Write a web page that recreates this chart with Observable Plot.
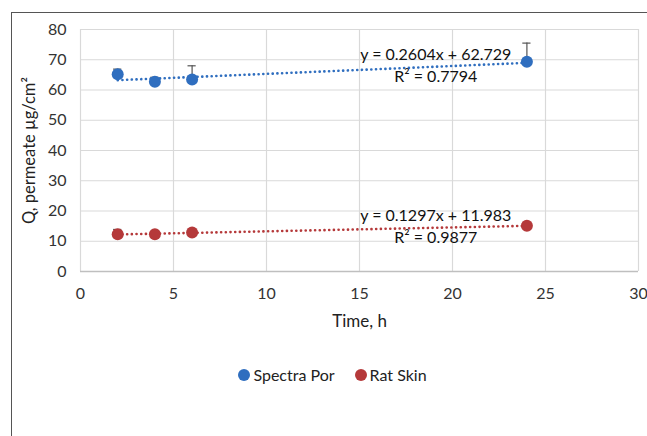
<!DOCTYPE html>
<html>
<head>
<meta charset="utf-8">
<script src="https://cdn.jsdelivr.net/npm/d3@7"></script>
<script src="https://cdn.jsdelivr.net/npm/@observablehq/plot@0.6"></script>
<style>
  html, body { margin: 0; padding: 0; background: #fff; width: 647px; height: 436px; overflow: hidden; font-family: Lato, "Open Sans", sans-serif; }
  #frame { position: absolute; left: 11px; top: 12px; width: 700px; height: 500px; border: 1px solid #555; box-sizing: border-box; }
  #chart { position: absolute; left: 0; top: 0; }
  #legend { position: absolute; top: 365px; left: 0; width: 647px; display: flex; justify-content: center; gap: 20px; font-size: 16px; color: #222; padding-left: 18px; box-sizing: border-box; }
  #legend span { display: inline-flex; align-items: center; }
  #legend i { display: inline-block; width: 12px; height: 12px; border-radius: 50%; margin-right: 3px; }
</style>
</head>
<body>
<div id="frame"></div>
<div id="chart"></div>
<div id="legend"></div>
<script>
// ---- data ----
const times = [2, 4, 6, 24];
const seriesNames = ["Spectra Por", "Rat Skin"];
const spectraPor = [65.2, 62.7, 63.5, 69.3];
const spectraPorErr = [1.7, 1.5, 4.5, 6.2];
const ratSkin = [12.3, 12.3, 12.9, 15.1];
const ratSkinErr = [1.6, 0.4, 0.3, 0.4];
const trendSlope = [0.2604, 0.1297];
const trendIntercept = [62.729, 11.983];
const trendR2 = [0.7794, 0.9877];
const xTicks = [0, 5, 10, 15, 20, 25, 30];
const yTicks = [0, 10, 20, 30, 40, 50, 60, 70, 80];

// ---- layout / style ----
const colors = ["#2f6ebf", "#b5393a"];
const eqAnchorX = 19.1;
const eqAnchorY = [71.6, 18.4];
const r2AnchorY = [64.3, 11.2];

const values = [spectraPor, ratSkin];
const errs = [spectraPorErr, ratSkinErr];
const points = [];
seriesNames.forEach((s, i) => times.forEach((t, j) => points.push({series: s, x: t, y: values[i][j], top: values[i][j] + errs[i][j]})));
const trend = [];
seriesNames.forEach((s, i) => [times[0], times[times.length - 1]].forEach(t => trend.push({series: s, x: t, y: trendSlope[i] * t + trendIntercept[i]})));
const eqLabels = seriesNames.map((s, i) => ({series: s, x: eqAnchorX, y: eqAnchorY[i], text: `y = ${trendSlope[i].toFixed(4)}x + ${trendIntercept[i].toFixed(3)}`}));
const r2Labels = seriesNames.map((s, i) => ({series: s, x: eqAnchorX, y: r2AnchorY[i], text: `R² = ${trendR2[i].toFixed(4)}`}));

const plot = Plot.plot({
  width: 647,
  height: 340,
  marginLeft: 80,
  marginRight: 9,
  marginTop: 29,
  marginBottom: 69,
  style: {fontFamily: "Lato, 'Open Sans', sans-serif", fontSize: "16px", color: "#333", background: "transparent"},
  x: {domain: [0, 30], ticks: xTicks, tickSize: 0, tickPadding: 16, label: "Time, h", labelAnchor: "center", labelArrow: "none", labelOffset: 55},
  y: {domain: [0, 80], ticks: yTicks, tickSize: 0, tickPadding: 14, label: "Q, permeate µg/cm²", labelAnchor: "center", labelArrow: "none", labelOffset: 57},
  color: {domain: seriesNames, range: colors},
  marks: [
    Plot.gridX(xTicks, {stroke: "#d9d9d9", strokeOpacity: 1, strokeWidth: 1.2}),
    Plot.gridY(yTicks, {stroke: "#d9d9d9", strokeOpacity: 1, strokeWidth: 1.2}),
    Plot.ruleY([0], {stroke: "#bfbfbf", strokeWidth: 1.5}),
    Plot.ruleX(points, {x: "x", y1: "y", y2: "top", stroke: "#555", strokeWidth: 1.2}),
    Plot.ruleY(points, {y: "top", x1: d => d.x - 0.22, x2: d => d.x + 0.22, stroke: "#555", strokeWidth: 1.2}),
    Plot.line(trend, {x: "x", y: "y", z: "series", stroke: "series", strokeWidth: 2.6, strokeDasharray: "0.1 4.6", strokeLinecap: "round"}),
    Plot.dot(points, {x: "x", y: "y", fill: "series", r: 6, stroke: "none"}),
    Plot.text(eqLabels, {x: "x", y: "y", text: "text", fill: "#111", fontSize: 16}),
    Plot.text(r2Labels, {x: "x", y: "y", text: "text", fill: "#111", fontSize: 16})
  ]
});
plot.querySelectorAll('[aria-label="x-axis label"] text').forEach(t => { t.style.fontSize = "17px"; t.style.fill = "#222"; });
plot.querySelectorAll('[aria-label="y-axis label"] text').forEach(t => { t.style.fontSize = "16.5px"; t.style.fill = "#222"; });
document.getElementById("chart").appendChild(plot);

const legend = document.getElementById("legend");
seriesNames.forEach((s, i) => {
  const span = document.createElement("span");
  const dot = document.createElement("i");
  dot.style.background = colors[i];
  span.appendChild(dot);
  span.appendChild(document.createTextNode(s));
  legend.appendChild(span);
});
</script>
</body>
</html>
